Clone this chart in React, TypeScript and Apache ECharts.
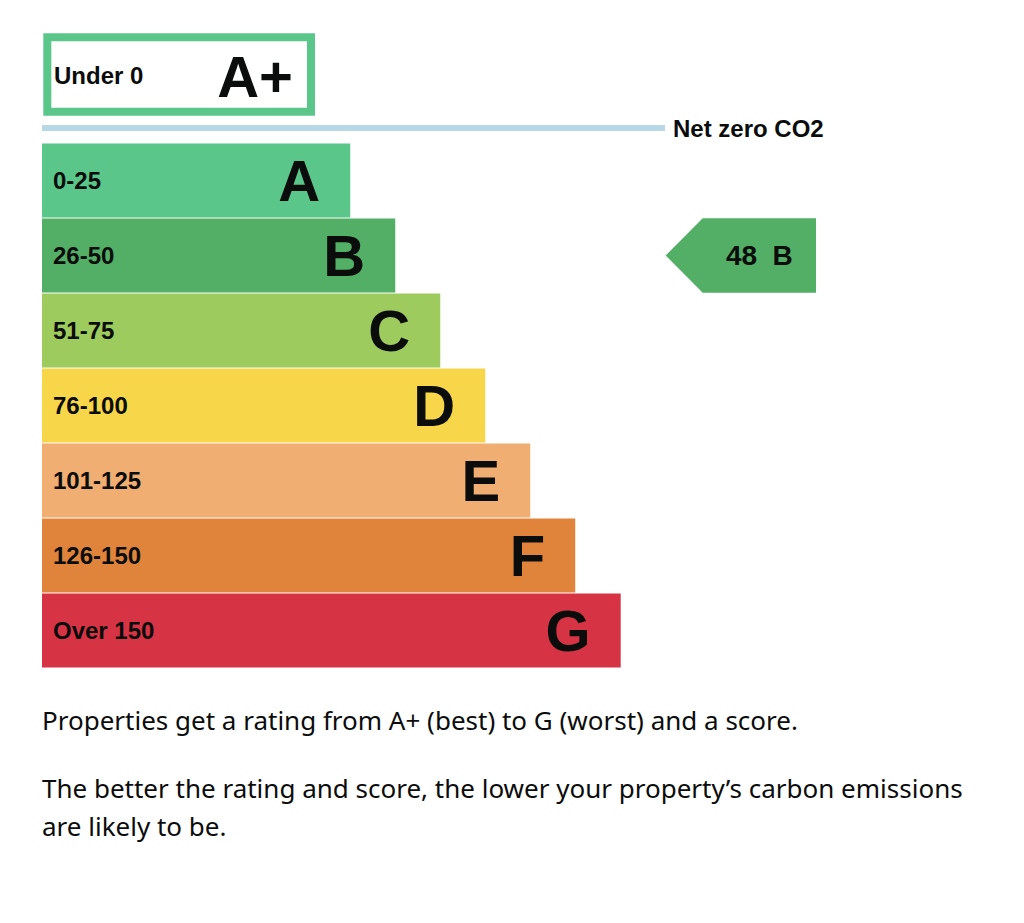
import React, { useEffect, useRef } from "react";
import * as echarts from "echarts";

const bands = ["0-25", "26-50", "51-75", "76-100", "101-125", "126-150", "Over 150"];
const ratings = ["A", "B", "C", "D", "E", "F", "G"];
const barLengths = [68.5, 78.5, 88.5, 98.5, 108.5, 118.5, 128.6];
const barColors = ["#5bc68a", "#53ae66", "#9dcb5d", "#f7d64a", "#f0ae72", "#e0843c", "#d63444"];
const topBand = "Under 0";
const topRating = "A+";
const netZeroLabel = "Net zero CO2";
const score = 48;
const scoreRating = "B";
const arrowStart = 138.6;
const arrowLength = 33.4;
const paragraphs = [
  "Properties get a rating from A+ (best) to G (worst) and a score.",
  "The better the rating and score, the lower your property\u2019s carbon emissions",
  "are likely to be.",
];

const LABEL_FONT = "'Liberation Sans', Arial, Helvetica, sans-serif";
const BODY_FONT = "'Noto Sans', 'Open Sans', sans-serif";
const INK = "#0b0c0c";

export default function App() {
  const ref = useRef<HTMLDivElement>(null);
  useEffect(() => {
    if (!ref.current) return;
    const chart = echarts.init(ref.current, undefined, { renderer: "svg" });
    const scoreIdx = ratings.indexOf(scoreRating);
    chart.setOption({
      animation: false,
      grid: { left: 34, top: 135, width: 900, height: 525 },
      xAxis: { type: "value", min: 0, max: 200, show: false },
      yAxis: { type: "category", data: ratings, inverse: true, show: false },
      series: [
        {
          type: "bar",
          barWidth: 74,
          data: barLengths.map((v, i) => ({ value: v, itemStyle: { color: barColors[i] } })),
          label: {
            show: true,
            position: "insideRight",
            distance: 30,
            formatter: (p: any) => ratings[p.dataIndex],
            fontSize: 58,
            fontWeight: "bold",
            fontFamily: LABEL_FONT,
            color: INK,
          },
        },
        {
          type: "bar",
          barWidth: 74,
          barGap: "-100%",
          data: barLengths,
          itemStyle: { color: "rgba(0,0,0,0)" },
          label: {
            show: true,
            position: "insideLeft",
            distance: 11,
            formatter: (p: any) => bands[p.dataIndex],
            fontSize: 24,
            fontWeight: "bold",
            fontFamily: LABEL_FONT,
            color: INK,
          },
        },
        {
          type: "custom",
          data: [[arrowStart, scoreIdx, score]],
          renderItem: (params: any, api: any) => {
            const p0 = api.coord([api.value(0), api.value(1)]);
            const p1 = api.coord([api.value(0) + arrowLength, api.value(1)]);
            const h = api.size([0, 1])[1] - 0.5;
            const tip = 37;
            const x0 = p0[0];
            const x1 = p1[0];
            const y = p0[1];
            return {
              type: "group",
              children: [
                {
                  type: "polygon",
                  shape: {
                    points: [
                      [x0, y],
                      [x0 + tip, y - h / 2],
                      [x1, y - h / 2],
                      [x1, y + h / 2],
                      [x0 + tip, y + h / 2],
                    ],
                  },
                  style: { fill: barColors[scoreIdx] },
                },
                {
                  type: "text",
                  x: (x0 + tip + x1) / 2,
                  y: y,
                  style: {
                    text: api.value(2) + "  " + scoreRating,
                    fontSize: 28,
                    fontWeight: "bold",
                    fontFamily: LABEL_FONT,
                    fill: INK,
                    align: "center",
                    verticalAlign: "middle",
                  },
                },
              ],
            };
          },
        },
      ],
      graphic: [
        {
          type: "rect",
          shape: { x: 39.3, y: 29.3, width: 263.7, height: 74.4 },
          style: { fill: "#ffffff", stroke: barColors[0], lineWidth: 8 },
        },
        {
          type: "text",
          x: 46,
          y: 67,
          style: {
            text: topBand,
            fontSize: 24,
            fontWeight: "bold",
            fontFamily: LABEL_FONT,
            fill: INK,
            align: "left",
            verticalAlign: "middle",
          },
        },
        {
          type: "text",
          x: 285,
          y: 68,
          style: {
            text: topRating,
            fontSize: 58,
            fontWeight: "bold",
            fontFamily: LABEL_FONT,
            fill: INK,
            align: "right",
            verticalAlign: "middle",
          },
        },
        {
          type: "line",
          shape: { x1: 34, y1: 120, x2: 657, y2: 120 },
          style: { stroke: "#b7d9e6", lineWidth: 6 },
        },
        {
          type: "text",
          x: 665,
          y: 120,
          style: {
            text: netZeroLabel,
            fontSize: 24,
            fontWeight: "bold",
            fontFamily: LABEL_FONT,
            fill: INK,
            align: "left",
            verticalAlign: "middle",
          },
        },
        ...paragraphs.map((t, i) => ({
          type: "text",
          x: 34,
          y: [712, 780, 818][i],
          style: {
            text: t,
            fontSize: 26,
            fontFamily: BODY_FONT,
            fill: INK,
            align: "left",
            verticalAlign: "middle",
          },
        })),
      ],
    });
    return () => chart.dispose();
  }, []);
  return <div ref={ref} style={{ width: 1008, height: 880 }} />;
}
